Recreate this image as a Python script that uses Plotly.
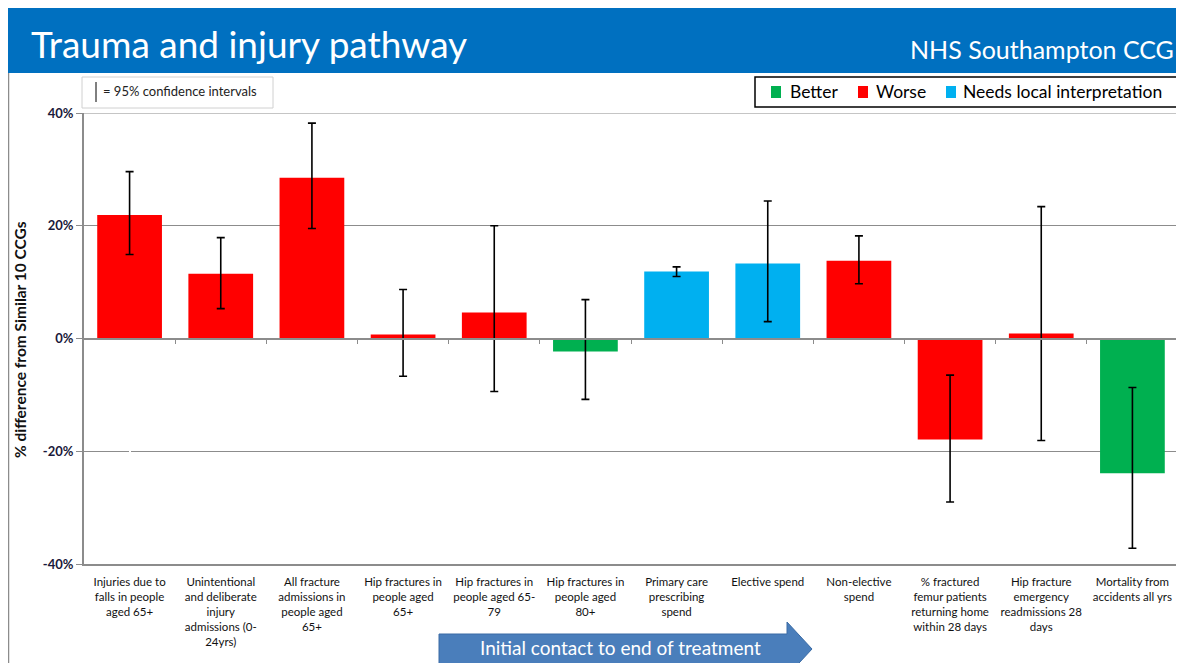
import plotly.graph_objects as go

# values
categories = [
    "Injuries due to<br>falls in people<br>aged 65+",
    "Unintentional<br>and deliberate<br>injury<br>admissions (0-<br>24yrs)",
    "All fracture<br>admissions in<br>people aged<br>65+",
    "Hip fractures in<br>people aged<br>65+",
    "Hip fractures in<br>people aged 65-<br>79",
    "Hip fractures in<br>people aged<br>80+",
    "Primary care<br>prescribing<br>spend",
    "Elective spend",
    "Non-elective<br>spend",
    "% fractured<br>femur patients<br>returning home<br>within 28 days",
    "Hip fracture<br>emergency<br>readmissions 28<br>days",
    "Mortality from<br>accidents all yrs",
]
values = [21.9, 11.5, 28.5, 0.7, 4.6, -2.3, 11.9, 13.3, 13.8, -17.9, 0.9, -23.9]
ci_upper = [29.6, 17.9, 38.2, 8.7, 20.0, 6.9, 12.7, 24.4, 18.2, -6.5, 23.4, -8.7]
ci_lower = [14.9, 5.3, 19.5, -6.7, -9.4, -10.8, 11.0, 3.0, 9.7, -29.0, -18.1, -37.2]
status = ["Worse", "Worse", "Worse", "Worse", "Worse", "Better",
          "Needs local interpretation", "Needs local interpretation",
          "Worse", "Worse", "Worse", "Better"]
legend_items = ["Better", "Worse", "Needs local interpretation"]
y_ticks = [-0.4, -0.2, 0, 0.2, 0.4]
y_ticktext = ["-40%", "-20%", "0%", "20%", "40%"]

COLORS = {"Better": "#00B050", "Worse": "#FF0000", "Needs local interpretation": "#00B0F0"}
FONT = "Lato"
GRID = "#8c8c8c"

# plot area in page pixels (figure sits 8px in from the page corner)
PL, PR, PT, PB = 84, 1178, 113, 564


def px(x):
    return (x - PL) / (PR - PL)


def py(y):
    return (PB - y) / (PB - PT)


fig = go.Figure()
xs = list(range(len(categories)))
for name in legend_items:
    idx = [i for i, s in enumerate(status) if s == name]
    fig.add_trace(go.Bar(
        x=[xs[i] for i in idx],
        y=[values[i] / 100 for i in idx],
        name=name,
        width=0.71,
        showlegend=False,
        marker=dict(color=COLORS[name], line=dict(width=0)),
        error_y=dict(
            type="data", symmetric=False,
            array=[(ci_upper[i] - values[i]) / 100 for i in idx],
            arrayminus=[(values[i] - ci_lower[i]) / 100 for i in idx],
            color="black", thickness=1.6, width=4,
        ),
    ))

# invisible trace so the zero-line axis with category ticks is drawn
fig.add_trace(go.Scatter(x=xs, y=[0] * len(xs), xaxis="x2", mode="markers",
                         marker=dict(opacity=0), showlegend=False, hoverinfo="skip"))

fig.update_layout(
    width=1176, height=655,
    barmode="overlay",
    paper_bgcolor="white", plot_bgcolor="white",
    margin=dict(l=PL - 8, r=1184 - PR, t=PT - 8, b=663 - PB),
    font=dict(family=FONT, color="black"),
    showlegend=False,
    xaxis=dict(
        range=[-0.5, 11.5], tickmode="array", tickvals=xs, ticktext=categories,
        showline=True, linecolor=GRID, linewidth=2,
        showgrid=False, ticks="", tickangle=0, ticklabelstandoff=6,
        tickfont=dict(size=11.5, family=FONT, color="#111111"),
    ),
    xaxis2=dict(
        range=[-0.5, 11.5], overlaying="x", anchor="free", position=0.5,
        showline=True, linecolor=GRID, linewidth=1.5,
        tickmode="array", tickvals=[i + 0.5 for i in xs[:-1]], ticks="outside",
        ticklen=5, tickcolor=GRID, showticklabels=False, showgrid=False,
    ),
    yaxis=dict(
        range=[-0.4, 0.4], tickmode="array", tickvals=y_ticks, ticktext=y_ticktext,
        showgrid=True, gridcolor=GRID, gridwidth=1.2,
        showline=True, linecolor=GRID, linewidth=2,
        ticks="outside", ticklen=6, tickcolor=GRID,
        zeroline=False,
        tickfont=dict(size=13, family=FONT, color="#1a1a3a", weight="bold"),
    ),
)

# y title placed by hand to sit where the reference has it
fig.add_annotation(text="<b>% difference from Similar 10 CCGs</b>", xref="paper", yref="paper",
                   x=px(20), y=py(340), textangle=-90, showarrow=False,
                   xanchor="center", yanchor="middle",
                   font=dict(size=15.5, family=FONT, color="#111111"))

# top gridline at 40% so the frame is closed
fig.add_shape(type="line", xref="paper", yref="y", x0=0, x1=1, y0=0.4, y1=0.4,
              line=dict(color=GRID, width=1.2))

# header band
fig.add_shape(type="rect", xref="paper", yref="paper", layer="below",
              x0=px(7), x1=px(1190), y0=py(73), y1=py(0),
              fillcolor="#0070C0", line=dict(width=0))
fig.add_annotation(text="Trauma and injury pathway", xref="paper", yref="paper",
                   x=px(29), y=py(44), xanchor="left", yanchor="middle",
                   showarrow=False, font=dict(size=37, color="white", family=FONT))
fig.add_annotation(text="NHS Southampton CCG", xref="paper", yref="paper",
                   x=px(1176), y=py(49), xanchor="right", yanchor="middle",
                   showarrow=False, font=dict(size=25, color="white", family=FONT))

# left border line
fig.add_shape(type="line", xref="paper", yref="paper",
              x0=px(8.5), x1=px(8.5), y0=py(670), y1=py(73),
              line=dict(color=GRID, width=1.5))

# confidence interval note box
fig.add_shape(type="rect", xref="paper", yref="paper",
              x0=px(82), x1=px(273), y0=py(108), y1=py(77),
              line=dict(color="#d0d0d0", width=1), fillcolor="white")
fig.add_shape(type="line", xref="paper", yref="paper",
              x0=px(96), x1=px(96), y0=py(102), y1=py(82),
              line=dict(color="black", width=1))
fig.add_annotation(text="= 95% confidence intervals", xref="paper", yref="paper",
                   x=px(101), y=py(91), xanchor="left", yanchor="middle",
                   showarrow=False, font=dict(size=13, family=FONT, color="#222222"))

# legend box
fig.add_shape(type="rect", xref="paper", yref="paper",
              x0=px(755), x1=px(1181), y0=py(107), y1=py(77),
              line=dict(color="black", width=1.5), fillcolor="white")
sq_x = [771, 858, 946]
txt_x = [788, 874, 961]
for name, sx, tx in zip(legend_items, sq_x, txt_x):
    fig.add_shape(type="rect", xref="paper", yref="paper",
                  x0=px(sx), x1=px(sx + 10), y0=py(98), y1=py(86),
                  fillcolor=COLORS[name], line=dict(width=0))
    fig.add_annotation(text=name, xref="paper", yref="paper",
                       x=px(tx), y=py(91.5), xanchor="left", yanchor="middle",
                       showarrow=False, font=dict(size=17.5, family=FONT, color="black"))

# pathway arrow at the bottom
ax0, ahead, tip = px(439), px(787), px(812)
ytop, ybot = py(634), py(664)
hy0, hy1, mid = py(622), py(676), py(649)
fig.add_shape(type="path", xref="paper", yref="paper",
              path=f"M {ax0} {ytop} L {ahead} {ytop} L {ahead} {hy0} L {tip} {mid} "
                   f"L {ahead} {hy1} L {ahead} {ybot} L {ax0} {ybot} Z",
              fillcolor="#4A7EBB", line=dict(color="#3A6BA5", width=1))
fig.add_annotation(text="Initial contact to end of treatment", xref="paper", yref="paper",
                   x=px(620), y=py(647), xanchor="center", yanchor="middle",
                   showarrow=False, font=dict(size=19, color="white", family=FONT))

fig.write_html("out.html")
